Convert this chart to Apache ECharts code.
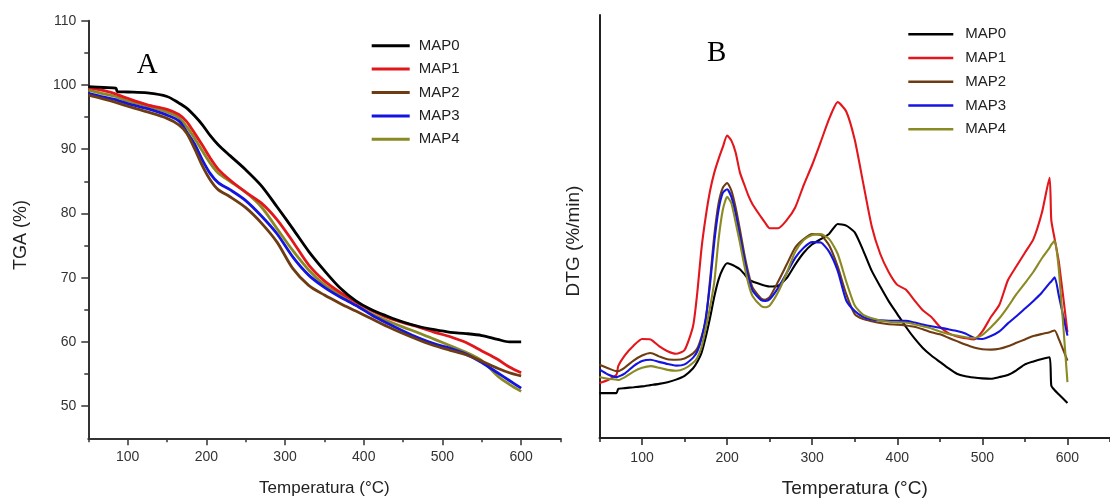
<!DOCTYPE html>
<html>
<head>
<meta charset="utf-8">
<script src="https://cdn.jsdelivr.net/npm/echarts@6/dist/echarts.min.js"></script>
<style>
html,body{margin:0;padding:0;background:#fff;}
#chart{width:1110px;height:503px;}
</style>
</head>
<body>
<div id="chart"></div>
<script>
// ---------- Panel A : TGA (%) ----------
const tgaTemps = [50,70,85,87,100,125,150,165,175,185,195,205,215,230,250,270,290,310,330,350,370,390,410,430,450,470,490,510,530,550,570,585,600];
const tgaMAP0 = [99.75,99.6,99.5,98.95,98.9,98.75,98.2,97.2,96.4,95.2,93.8,92.1,90.7,89.0,86.8,84.3,81.0,77.6,74.1,71.1,68.4,66.4,65.0,64.0,63.1,62.4,61.9,61.5,61.3,61.0,60.4,60.0,60.0];
const tgaMAP1 = [99.6,99.1,98.6,98.5,97.9,96.9,96.2,95.4,94.3,92.5,90.6,88.6,86.9,85.2,83.3,81.6,79.0,75.6,72.0,69.5,67.7,66.2,64.9,63.8,63.0,62.3,61.5,60.8,59.9,58.6,57.3,56.1,55.2];
const tgaMAP2 = [98.4,97.8,97.3,97.2,96.7,95.8,94.8,93.8,92.5,90.1,87.4,85.2,83.7,82.6,80.9,78.5,75.5,71.4,68.8,67.3,66.0,64.8,63.6,62.4,61.3,60.3,59.4,58.7,58.0,57.0,55.9,55.2,54.7];
const tgaMAP3 = [98.7,98.1,97.7,97.6,97.1,96.3,95.3,94.4,92.7,90.8,88.3,86.2,84.8,83.7,82.0,79.6,76.8,73.2,70.4,68.5,67.0,65.7,64.2,62.9,61.7,60.6,59.7,59.0,58.1,56.8,55.2,54.0,52.8];
const tgaMAP4 = [99.2,98.6,98.2,98.1,97.5,96.7,95.8,94.9,93.5,91.7,89.7,87.8,86.3,85.0,83.3,81.0,77.6,74.2,71.2,68.9,67.3,65.7,64.4,63.3,62.3,61.4,60.4,59.4,58.4,57.1,54.7,53.4,52.3];

// ---------- Panel B : DTG (arbitrary units, no scale shown) ----------
const dtgTemps = [50,60,70,72,80,90,100,110,120,130,140,150,160,165,170,175,180,185,190,195,200,205,210,215,220,225,230,240,245,250,260,270,280,290,300,310,320,330,340,350,360,370,380,390,400,410,420,430,440,450,460,470,480,490,500,510,520,530,540,550,560,570,579,581,585,590,600];
const dtgMAP0 = [10.6,10.6,10.6,11.6,11.8,12.0,12.2,12.5,12.8,13.2,13.8,14.7,16.5,18.0,20.2,24.0,28.5,33.5,37.5,40.0,41.3,41.0,40.5,39.9,38.8,37.6,37.0,36.3,36.0,35.8,36.0,37.8,41.0,43.8,45.8,47.0,48.3,50.6,50.2,48.6,44.3,39.5,35.8,32.3,29.3,26.3,23.6,21.3,19.5,18.0,16.5,15.2,14.6,14.3,14.1,14.0,14.4,14.9,16.0,17.4,18.1,18.7,19.1,12.4,11.3,10.3,8.3];
const dtgMAP1 = [13.0,13.7,15.0,17.0,19.6,21.8,23.4,23.3,21.7,20.5,19.9,20.8,26.5,34.5,45.0,52.5,58.5,62.8,66.0,68.8,71.5,70.3,67.5,62.8,60.0,57.3,55.2,52.2,50.8,49.6,49.6,51.5,54.5,59.8,64.6,70.0,75.5,79.4,77.2,70.5,60.2,50.0,43.5,39.2,36.2,35.1,32.6,30.2,28.6,26.3,24.8,24.0,23.6,23.3,25.2,28.6,31.5,37.3,40.6,43.8,47.0,53.3,61.5,51.5,47.0,41.5,25.0];
const dtgMAP2 = [17.3,16.5,15.8,15.8,16.7,18.3,19.5,20.1,19.3,18.6,18.5,18.8,20.0,21.2,24.0,28.0,37.5,48.0,55.5,59.2,60.3,58.5,54.5,49.3,43.7,39.0,35.5,33.0,32.7,33.3,37.0,41.0,45.0,47.0,48.2,48.0,45.5,40.5,34.0,29.3,28.1,27.6,27.2,26.9,26.8,26.6,26.3,25.7,25.0,24.5,23.7,22.9,22.1,21.4,21.0,20.9,21.1,21.7,22.5,23.3,24.1,24.6,25.0,25.2,25.4,23.3,18.3];
const dtgMAP3 = [16.2,15.0,14.4,14.5,15.3,17.0,18.2,18.5,18.0,17.5,17.1,17.4,19.0,20.5,23.5,28.5,36.5,46.5,54.0,58.0,58.8,57.0,53.0,47.8,42.5,38.0,34.8,32.6,32.4,32.8,35.5,39.0,42.6,45.0,46.3,46.2,44.0,39.5,32.5,30.0,28.6,28.0,27.8,27.7,27.7,27.7,27.3,26.8,26.4,26.1,25.7,25.3,24.7,23.7,23.4,24.1,25.2,27.1,28.8,30.6,32.4,34.4,36.6,37.0,38.0,33.5,24.2];
const dtgMAP4 = [14.4,14.0,13.8,13.7,14.4,15.7,16.6,17.0,16.6,16.1,15.9,16.4,17.8,19.0,21.5,26.0,31.0,37.0,47.0,54.0,57.0,55.5,51.0,46.2,41.0,36.5,33.5,31.2,30.9,31.3,34.5,39.0,44.0,46.8,48.0,48.2,47.0,43.5,37.0,31.3,29.1,28.3,27.8,27.5,27.4,27.3,26.9,26.4,25.9,25.2,24.6,24.2,23.8,23.6,24.4,26.2,28.3,31.0,34.0,36.6,39.3,42.5,45.0,45.7,46.6,39.5,13.2];

// ---------- labels / ticks ----------
const seriesNames = ['MAP0','MAP1','MAP2','MAP3','MAP4'];
const seriesColors = ['#000000','#e3161c','#6e3c12','#1414e0','#8a8a24'];
const tempMajorTicks = [100,200,300,400,500,600];
const tempMinorTicks = [50,150,250,350,450,550,650];
const tgaMajorTicks = [50,60,70,80,90,100,110];
const tgaMinorTicks = [55,65,75,85,95,105];
const xName = 'Temperatura (°C)';

const FONT = '"Liberation Sans", Arial, Helvetica, sans-serif';
const tgaData = [tgaMAP0,tgaMAP1,tgaMAP2,tgaMAP3,tgaMAP4];
const dtgData = [dtgMAP0,dtgMAP1,dtgMAP2,dtgMAP3,dtgMAP4];
const pair = (xs, ys) => xs.map((x,i)=>[x, ys[i]]);

const axisColA = '#333';
const axisColB = '#222';

const chart = echarts.init(document.getElementById('chart'), null, {renderer:'canvas'});

const series = [];
seriesNames.forEach((n,i)=>{
  series.push({
    name:n, type:'line', xAxisIndex:0, yAxisIndex:0,
    data: pair(tgaTemps, tgaData[i]), showSymbol:false, symbol:'none',
    smooth:0.3, lineStyle:{color:seriesColors[i], width:2.8}, itemStyle:{color:seriesColors[i]},
    z: 10 - i
  });
});
seriesNames.forEach((n,i)=>{
  series.push({
    name:n, type:'line', xAxisIndex:2, yAxisIndex:2,
    data: pair(dtgTemps, dtgData[i]), showSymbol:false, symbol:'none',
    smooth:0.2, lineStyle:{color:seriesColors[i], width:2.1}, itemStyle:{color:seriesColors[i]},
    z: 10
  });
});

const option = {
  animation:false,
  backgroundColor:'#fff',
  textStyle:{fontFamily:FONT},
  grid:[
    {left:88.3, top:20.7, width:472.2, height:417.6, containLabel:false},
    {left:599.5, top:15, width:516, height:424.3, containLabel:false}
  ],
  xAxis:[
    {gridIndex:0, type:'value', min:50, max:650, position:'bottom',
     axisLine:{show:true, onZero:false, lineStyle:{color:axisColA, width:2}},
     axisTick:{show:true, customValues:tempMajorTicks, length:7, lineStyle:{color:axisColA, width:1.5}},
     axisLabel:{show:true, customValues:tempMajorTicks, margin:12, fontSize:14, color:'#333', fontFamily:FONT},
     splitLine:{show:false},
     name:xName, nameLocation:'middle', nameGap:42, nameTextStyle:{fontSize:17, color:'#222', fontFamily:FONT}},
    {gridIndex:0, type:'value', min:50, max:650, position:'bottom',
     axisLine:{show:false, onZero:false},
     axisTick:{show:true, customValues:tempMinorTicks, length:4, lineStyle:{color:axisColA, width:1.5}},
     axisLabel:{show:false}, splitLine:{show:false}},
    {gridIndex:1, type:'value', min:50, max:650, position:'bottom',
     axisLine:{show:true, onZero:false, lineStyle:{color:axisColB, width:2}},
     axisTick:{show:true, customValues:tempMajorTicks, length:7, lineStyle:{color:axisColB, width:1.5}},
     axisLabel:{show:true, customValues:tempMajorTicks, margin:13, fontSize:14, color:'#333', fontFamily:FONT},
     splitLine:{show:false},
     name:xName, nameLocation:'middle', nameGap:41, nameTextStyle:{fontSize:19, color:'#222', fontFamily:FONT}},
    {gridIndex:1, type:'value', min:50, max:650, position:'bottom',
     axisLine:{show:false, onZero:false},
     axisTick:{show:true, customValues:tempMinorTicks, length:4, lineStyle:{color:axisColB, width:1.5}},
     axisLabel:{show:false}, splitLine:{show:false}}
  ],
  yAxis:[
    {gridIndex:0, type:'value', min:45, max:110, position:'left',
     axisLine:{show:true, onZero:false, lineStyle:{color:axisColA, width:2}},
     axisTick:{show:true, customValues:tgaMajorTicks, length:7, lineStyle:{color:axisColA, width:1.5}},
     axisLabel:{show:true, customValues:tgaMajorTicks, margin:12, fontSize:14, color:'#333', fontFamily:FONT},
     splitLine:{show:false}},
    {gridIndex:0, type:'value', min:45, max:110, position:'left',
     axisLine:{show:false, onZero:false},
     axisTick:{show:true, customValues:tgaMinorTicks, length:4, lineStyle:{color:axisColA, width:1.5}},
     axisLabel:{show:false}, splitLine:{show:false}},
    {gridIndex:1, type:'value', min:0, max:100, position:'left',
     axisLine:{show:true, onZero:false, lineStyle:{color:axisColB, width:2}},
     axisTick:{show:false}, axisLabel:{show:false}, splitLine:{show:false}}
  ],
  legend:[
    {data:seriesNames, orient:'vertical', left:366.7, top:31.7, itemWidth:38, itemHeight:3, itemGap:5.4,
     icon:'rect', selectedMode:false,
     textStyle:{fontSize:15, lineHeight:18, color:'#222', fontFamily:FONT, padding:[0,0,0,4]}},
    {data:seriesNames, orient:'vertical', left:903.3, top:20.3, itemWidth:45, itemHeight:2.5, itemGap:5.75,
     icon:'rect', selectedMode:false,
     textStyle:{fontSize:15, lineHeight:18, color:'#222', fontFamily:FONT, padding:[0,0,0,7]}}
  ],
  graphic:[
    {type:'text', x:147.3, y:65, style:{text:'A', fontSize:29, fontFamily:'"Liberation Serif", "Times New Roman", serif', fill:'#000', align:'center', verticalAlign:'middle'}},
    {type:'text', x:716.7, y:53.3, style:{text:'B', fontSize:29, fontFamily:'"Liberation Serif", "Times New Roman", serif', fill:'#000', align:'center', verticalAlign:'middle'}},
    {type:'text', x:21, y:235, rotation:Math.PI/2, style:{text:'TGA (%)', fontSize:18, fontFamily:FONT, fill:'#222', align:'center', verticalAlign:'middle'}},
    {type:'text', x:574, y:241, rotation:Math.PI/2, style:{text:'DTG (%/min)', fontSize:19, fontFamily:FONT, fill:'#222', align:'center', verticalAlign:'middle'}}
  ],
  series:series
};
chart.setOption(option);
</script>
</body>
</html>
